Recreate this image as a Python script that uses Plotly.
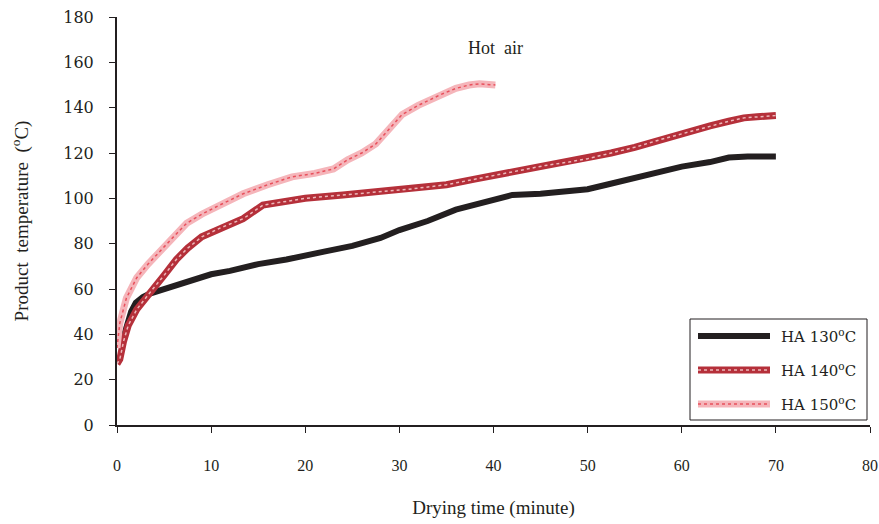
import plotly.graph_objects as go

t130 = [0.5, 1.0, 1.5, 2, 2.75, 3.5, 5, 7, 10, 12, 15, 18, 20, 22, 25, 28, 30, 33, 36, 38, 40, 42, 45, 48, 50, 52, 55, 58, 60, 63, 65, 67, 70]
y130 = [36, 44, 50, 54, 56.5, 58, 60, 63, 66.5, 68, 71, 73, 75, 76.5, 79, 82.5, 86, 90, 95, 97, 99.5, 101.5, 102, 103, 104, 106, 109, 112, 114, 116, 118, 118.5, 118.5]

t140 = [0, 0.3, 0.7, 1.2, 2.1, 3, 3.8, 5, 6.3, 7.5, 9, 11, 13.4, 15.5, 17.6, 20, 24, 28, 31, 35, 38, 40, 43, 45.5, 48, 50, 52.5, 55, 57.8, 60, 63, 65, 66.6, 68, 70]
y140 = [27, 29, 37, 44, 51, 56, 60, 66, 73, 78, 83, 87, 91, 97, 98.5, 100, 101.5, 103, 104, 106, 108.5, 110, 112.5, 114.5, 116, 117.5, 120, 122.5, 126, 128.5, 132, 134, 135.5, 136, 136.5]

t150 = [0, 0.3, 1, 2.1, 3.3, 4.6, 6, 7.4, 9, 10.9, 13.4, 16, 18.6, 21, 23, 24.5, 26, 27.5, 29.2, 30.3, 32, 34.5, 36, 37.4, 38.5, 40.2]
y150 = [34, 45, 56, 65, 71, 77, 83, 89, 93, 97, 102, 106, 109.5, 111, 113, 117, 120, 124, 132, 137, 141, 146, 148.5, 150, 150.5, 150]

names = ["HA 130<sup>o</sup>C", "HA 140<sup>o</sup>C", "HA 150<sup>o</sup>C"]
xticks = [0, 10, 20, 30, 40, 50, 60, 70, 80]
yticks = [0, 20, 40, 60, 80, 100, 120, 140, 160, 180]

TFONT = "Liberation Serif"
NFONT = "DejaVu Serif"
INK = "#231f20"

styles = [
    dict(base=dict(color=INK, width=6), over=None),
    dict(base=dict(color="#b5303a", width=7), over=dict(color="rgba(255,230,230,0.75)", width=1.5, dash="dot")),
    dict(base=dict(color="#f5b5ba", width=7), over=dict(color="#e8505c", width=1.5, dash="dot")),
]
series = [(t130, y130), (t140, y140), (t150, y150)]

fig = go.Figure()
for (tx, ty), st, nm in zip(series, styles, names):
    fig.add_trace(go.Scatter(x=tx, y=ty, mode="lines", name=nm, showlegend=False,
                             line=st["base"]))
    if st["over"]:
        fig.add_trace(go.Scatter(x=tx, y=ty, mode="lines", showlegend=False, hoverinfo="skip",
                                 line=st["over"]))

# Legend box (drawn in paper coordinates)
L, R, T, B = 117, 870, 17, 425
px = lambda v: (v - L) / (R - L)
py = lambda v: (B - v) / (B - T)
shapes = [dict(type="rect", xref="paper", yref="paper", x0=px(690), x1=px(867), y0=py(420), y1=py(319),
               line=dict(color=INK, width=1), fillcolor="white", layer="above")]
annotations = []
rows = [336, 370, 404]
for row, st, nm in zip(rows, styles, names):
    shapes.append(dict(type="line", xref="paper", yref="paper", x0=px(698), x1=px(770),
                       y0=py(row), y1=py(row), line=st["base"], layer="above"))
    if st["over"]:
        shapes.append(dict(type="line", xref="paper", yref="paper", x0=px(698), x1=px(770),
                           y0=py(row), y1=py(row), line=st["over"], layer="above"))
    annotations.append(dict(x=px(779), y=py(row), xref="paper", yref="paper", text=nm,
                            xanchor="left", yanchor="middle", showarrow=False,
                            font=dict(family=NFONT, size=15, color=INK)))
annotations.append(dict(x=40.2, y=166.5, xref="x", yref="y", text="Hot&nbsp; air", showarrow=False,
                        font=dict(family=TFONT, size=18, color=INK)))

fig.update_layout(
    width=879, height=524,
    margin=dict(l=L, r=879 - R, t=T, b=524 - B, autoexpand=False),
    paper_bgcolor="white", plot_bgcolor="white",
    font=dict(family=NFONT, size=16, color=INK),
    showlegend=False,
    shapes=shapes,
    annotations=annotations,
)
fig.update_xaxes(range=[0, 80], tickvals=xticks, showgrid=False, zeroline=False, automargin=False,
                 showline=True, linecolor=INK, linewidth=1.5,
                 ticks="outside", ticklen=6, tickcolor=INK,
                 ticklabelstandoff=19, ticklabeloverflow="allow",
                 tickfont=dict(family=TFONT, size=16),
                 title=dict(text="Drying time (minute)", standoff=28, font=dict(family=TFONT, size=19)))
fig.update_yaxes(range=[0, 180], tickvals=yticks, showgrid=False, zeroline=False, automargin=False,
                 showline=True, linecolor=INK, linewidth=2,
                 ticks="outside", ticklen=6, tickcolor=INK,
                 ticklabelstandoff=12,
                 tickfont=dict(family=NFONT, size=16),
                 title=dict(text="Product&nbsp; temperature&nbsp; (<sup>o</sup>C)", standoff=30,
                            font=dict(family=TFONT, size=19)))

fig.write_html("out.html")
